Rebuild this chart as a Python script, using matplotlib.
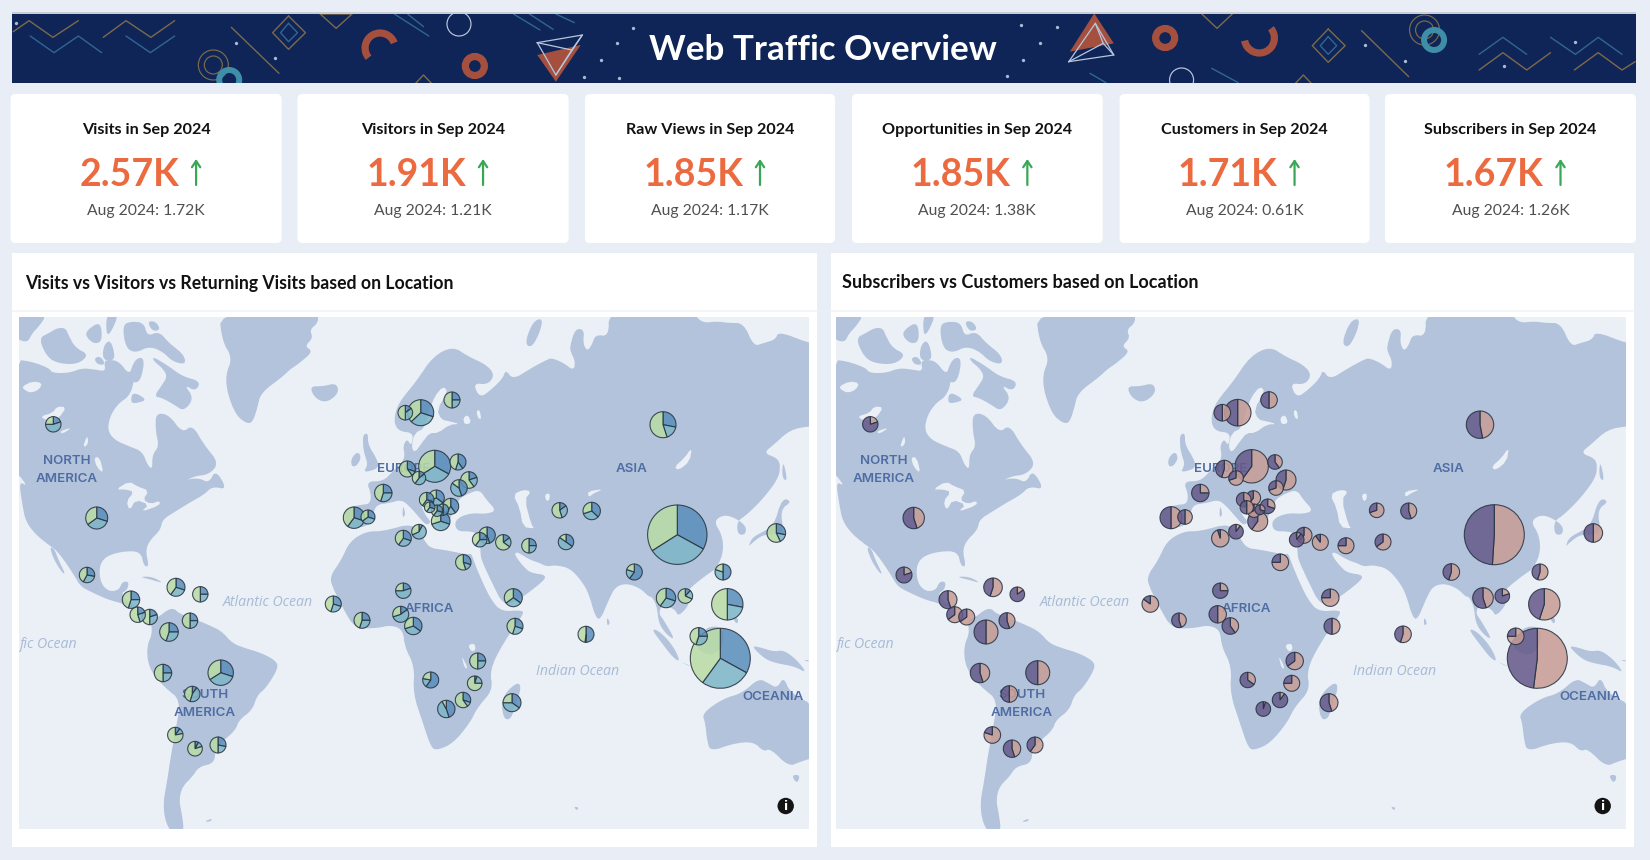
import numpy as np
import matplotlib
matplotlib.use("Agg")
import matplotlib.pyplot as plt
from matplotlib.patches import FancyBboxPatch, Rectangle, Circle, Polygon, Arc

# kpi cards
kpi_titles = ["Visits in Sep 2024", "Visitors in Sep 2024", "Raw Views in Sep 2024",
              "Opportunities in Sep 2024", "Customers in Sep 2024", "Subscribers in Sep 2024"]
kpi_values = ["2.57K", "1.91K", "1.85K", "1.85K", "1.71K", "1.67K"]
kpi_previous = ["Aug 2024: 1.72K", "Aug 2024: 1.21K", "Aug 2024: 1.17K",
                "Aug 2024: 1.38K", "Aug 2024: 0.61K", "Aug 2024: 1.26K"]
card_left = [10.6, 297.5, 585, 852, 1119.6, 1385]
card_right = [281.6, 568.6, 835, 1102.7, 1369.5, 1636]

# pies: one row per location (map position, read in pixels of the left map)
places = ["Canada", "USA", "Mexico", "Cuba", "Puerto Rico", "Guatemala", "Costa Rica", "Panama",
          "Colombia", "Venezuela", "Peru", "Brazil", "Bolivia", "Chile", "Argentina", "Uruguay",
          "Norway", "Sweden", "Finland", "UK", "Netherlands", "Germany", "Poland", "Ukraine",
          "Romania", "France", "Spain", "Portugal", "Italy", "Croatia", "Bulgaria", "Hungary",
          "Serbia", "Albania", "Greece", "Tunisia", "Algeria", "Turkey", "Lebanon", "Iraq",
          "Iran", "Egypt", "Uzbekistan", "Kazakhstan", "Afghanistan", "Bangladesh", "Russia",
          "China", "Japan", "Taiwan", "Thailand", "Vietnam", "Philippines", "Malaysia",
          "Indonesia", "Maldives", "Senegal", "Ghana", "Niger", "Nigeria", "Cameroon", "Yemen",
          "Kenya", "Tanzania", "DRC", "Malawi", "Zambia", "Namibia", "Madagascar"]
place_x = [53.3, 96.7, 87, 176, 200.3, 131, 137.7, 149.7, 169, 190, 163, 220.7, 192.3, 175.3, 195, 218,
           405.3, 420.7, 452, 407.3, 419, 434.7, 458, 469, 459, 383.3, 354, 368, 426.7, 436.3, 450.7, 429.7,
           437, 443, 440.7, 419, 403.3, 487, 479.7, 503.3, 529, 463.3, 559.7, 591.7, 566, 634.3, 663,
           677.3, 776.3, 723, 666, 685.3, 727.3, 698.7, 720.3, 586, 333.3, 362, 403.3, 400.7, 413.3, 513.3,
           515, 477.7, 430.7, 474.7, 463, 446.3, 512]
place_y = [424.3, 518, 575, 587.3, 594.3, 599.7, 614.7, 617, 632, 620.7, 673, 672.7, 694, 735, 748.7, 745,
           412.7, 412.7, 400, 469, 478, 466.3, 462, 480, 488, 493, 517.7, 517, 499.7, 498, 506.3, 507.3,
           510.7, 509.7, 521.3, 531.7, 538.3, 535.3, 539.7, 542.3, 545.7, 562.3, 510.3, 511, 542, 572, 424.7,
           534.7, 533, 572, 598, 596, 604.3, 636.3, 658.3, 634.3, 604, 620.3, 590.7, 614.3, 626, 597.7,
           626.3, 661, 680, 683.3, 700, 709, 702.7]
# left map: Visits / Returning Visits / Visitors
size_visits = [7.7, 11, 7.7, 9, 7.7, 8.7, 7.7, 7.7, 9.3, 7.7, 8.7, 12.7, 7.7, 7.7, 7.3, 8,
               7.3, 13, 8, 8, 6.7, 16, 8, 8.3, 8.3, 8.7, 10.7, 7, 7.3, 8, 8, 5.3,
               5.7, 5.7, 9.3, 7.3, 8, 8.3, 7.3, 7.7, 7.3, 7.7, 7.7, 8.7, 7.7, 8, 13,
               29.7, 9.3, 8, 9.7, 7.3, 15.7, 8.7, 30, 8, 8, 8, 7.7, 8, 8.7, 9,
               8, 8, 8, 7.3, 7.7, 8.7, 9]
share_blue = [.2, .3, .28, .3, .25, .25, .2, .2, .25, .25, .25, .3, .1, .1, .08, .28,
              .15, .3, .25, .3, .15, .33, .4, .2, .45, .25, .3, .3, .3, .35, .4, .3,
              .3, .5, .3, .08, .3, .45, .25, .15, .25, .3, .15, .37, .35, .6, .28,
              .33, .28, .5, .3, .12, .28, .25, .33, .5, .3, .25, .2, .15, .35, .35,
              .3, .25, .6, .05, .3, .45, .35]
share_teal = [.55, .35, .3, .3, .25, .3, .25, .3, .3, .25, .25, .36, .45, .12, .12, .22,
              .35, .33, .25, .1, .45, .33, .15, .2, .4, .3, .3, .35, .3, .35, .2, .3,
              .3, .2, .4, .6, .3, .2, .35, .2, .25, .15, .3, .33, .5, .2, .17,
              .33, .15, .3, .3, .2, .22, .3, .27, .02, .25, .3, .55, .55, .35, .3,
              .25, .25, .18, .2, .1, .47, .4]
# right map: Customers / Subscribers
size_subs = [7.7, 10.7, 8, 9.3, 7.3, 9, 8, 8, 12, 8, 9.7, 12, 8.3, 8.3, 8.7, 8,
             8.3, 13.3, 8.3, 8.7, 7.3, 16.7, 7.3, 10, 7.3, 8.7, 11, 7.3, 7.3, 7.3, 7.3, 6.7,
             6.7, 5, 10, 7.3, 8.7, 8, 7.3, 8, 8, 8.3, 7.3, 8, 8, 8.3, 13.7,
             30, 9.3, 8, 10.3, 7.3, 15.7, 8.3, 30, 8.3, 8.3, 7.3, 7.7, 8.7, 8.3, 8.7,
             8, 8.7, 7.7, 8, 7.7, 7.3, 9]
share_salmon = [.2, .45, .2, .55, .15, .45, .65, .65, .5, .45, .45, .5, .5, .8, .45, .6,
                .5, .5, .5, .55, .7, .6, .4, .55, .7, .25, .5, .5, .4, .6, .3, .5,
                .7, .3, .6, .1, .95, .6, .1, .9, .75, .75, .7, .45, .65, .55, .47,
                .51, .5, .55, .45, .2, .55, .75, .52, .55, .85, .45, .25, .5, .4, .75,
                .5, .65, .35, .75, .1, .05, .45]

# continents and oceans: text, x, y
continent_labels = [("NORTH", 67, 461.5), ("AMERICA", 67, 478.5), ("EUROPE", 404, 469.5), ("AFRICA", 429, 608.5),
                    ("ASIA", 632, 468.5), ("SOUTH", 205, 695), ("AMERICA", 205, 713), ("OCEANIA", 773, 696.5)]
ocean_labels = [("Atlantic Ocean", 268, 603, "center"), ("fic Ocean", 20, 645, "left"),
                ("Indian Ocean", 578, 671.5, "center")]

BG = "#e9eef6"
WATER = "#ebf0f7"
LAND = "#b2c3db"
NAVY = "#0f2557"
PX = 0.72  # one pixel in points at dpi 100

A = (19, 318)
B = (19, 560)
C = (283, 318)
D = (283, 560)
E = (547, 318)
F = (547, 560)


def tile(org, pts):
    return [(org[0] + a / 3, org[1] + b / 3) for a, b in pts]


# rounds the corners of a coast a little
def smooth(poly, rounds=2):
    pts = np.array(poly, dtype=float)
    for _ in range(rounds):
        nxt = np.roll(pts, -1, axis=0)
        pts = np.column_stack([0.75 * pts + 0.25 * nxt, 0.25 * pts + 0.75 * nxt]).reshape(-1, 2)
    return pts


land = [
    # north america
    tile(A, [(-12, 125), (35, 130), (90, 150), (100, 165), (150, 165), (190, 150), (230, 155), (260, 160), (255, 130),
             (270, 125), (300, 130), (330, 170), (345, 140), (345, 195), (330, 235), (300, 255), (275, 290), (265, 335),
             (285, 365), (330, 385), (370, 400), (385, 440), (400, 455), (400, 410), (420, 385), (410, 340), (410, 285),
             (450, 290), (490, 345), (520, 320), (555, 380), (600, 435), (570, 470), (520, 475), (470, 510), (500, 485),
             (540, 480), (570, 495), (590, 455), (625, 515), (580, 505), (555, 530), (510, 555), (470, 580), (430, 605),
             (425, 635), (390, 670), (380, 700), (390, 745), (375, 745), (365, 700), (310, 700), (260, 715)])
    + tile(B, [(240, 20), (245, 70), (270, 95), (300, 90), (310, 65), (330, 65), (325, 90), (305, 100), (330, 130),
               (350, 135), (335, 145), (310, 130), (270, 120), (225, 100), (185, 80), (165, 45), (135, 0)])
    + tile(A, [(110, 695), (95, 685), (50, 650), (20, 610), (10, 560), (0, 490), (25, 505), (0, 470), (-12, 470)]),
    tile(A, [(92, 688), (105, 690), (118, 725), (140, 770), (128, 762), (105, 725)]),
    # arctic islands
    tile(A, [(-12, -12), (85, -12), (60, 25), (40, 45), (25, 75), (-12, 60)]),
    tile(A, [(60, 60), (90, 45), (115, 30), (140, 30), (150, 55), (170, 90), (210, 110), (175, 140), (110, 135), (80, 110)]),
    tile(A, [(205, 35), (245, 10), (250, 70), (225, 78), (200, 55)]),
    tile(A, [(262, -12), (300, -12), (275, 45), (262, 50)]),
    tile(A, [(255, 80), (275, 65), (290, 120), (270, 130), (250, 120)]),
    tile(A, [(225, 120), (245, 115), (260, 140), (235, 140)]),
    tile(A, [(310, 20), (340, 10), (375, 15), (385, 55), (420, 40), (450, 75), (495, 110), (500, 140), (460, 130),
             (430, 100), (390, 85), (350, 105), (320, 90)]),
    tile(A, [(385, 10), (410, 10), (425, 35), (400, 40)]),
    tile(A, [(350, 120), (378, 120), (365, 190), (340, 195), (330, 170)]),
    tile(A, [(400, 115), (450, 145), (490, 175), (545, 190), (530, 220), (495, 200), (525, 240), (495, 280), (465, 260),
             (430, 240), (405, 235), (430, 200), (445, 175), (430, 150), (405, 130)]),
    tile(A, [(340, 220), (385, 245), (355, 255), (335, 255)]),
    # greenland, iceland
    tile(A, [(600, -15), (810, -15)]) + tile(C, [(105, -15), (105, 15), (80, 35), (90, 60), (65, 85), (90, 100), (50, 135), (20, 155), (0, 175)])
    + tile(A, [(725, 225), (715, 270), (700, 315), (680, 315), (650, 290), (625, 225), (620, 170), (640, 120), (610, 70)]),
    tile(C, [(80, 205), (120, 205), (160, 195), (168, 225), (130, 255), (95, 240)]),
    # south america
    tile(B, [(395, 180), (420, 170), (445, 150), (465, 145), (480, 160), (520, 175), (570, 195), (610, 215), (640, 250),
             (680, 265), (730, 280), (775, 305), (775, 330), (740, 385), (715, 405), (700, 450), (660, 480), (650, 510),
             (610, 545), (590, 570), (585, 610), (540, 620), (520, 650), (490, 680), (480, 720), (490, 770), (495, 815),
             (465, 825), (440, 790), (432, 730), (445, 660), (455, 590), (470, 510), (485, 420), (440, 385), (400, 340),
             (385, 300), (385, 255), (400, 220)]),
    tile(B, [(555, 785), (580, 775), (575, 785)]),
    tile(B, [(360, 50), (400, 50), (435, 70), (400, 60)]),
    # africa
    tile(D, [(175, 0), (140, 50), (150, 85), (180, 145), (215, 205), (280, 205), (325, 195), (360, 210), (365, 260),
             (395, 320), (390, 400), (420, 490), (445, 565), (465, 570), (510, 550), (560, 490), (585, 440), (630, 390),
             (620, 330), (660, 250), (720, 165), (720, 150), (655, 155), (625, 120), (600, 70), (575, 10), (565, -20)])
    + tile(C, [(555, 710), (480, 695), (440, 690), (420, 660), (390, 615), (300, 640), (250, 640), (200, 670)]),
    tile(D, [(655, 440), (665, 400), (705, 365), (715, 385), (695, 440), (685, 475), (665, 480)]),
    # eurasia
    tile(C, [(250, 490), (300, 490), (330, 460), (360, 430), (365, 410), (360, 385), (372, 362), (385, 385), (392, 345),
             (350, 340), (335, 320), (335, 290), (350, 250), (400, 190), (450, 115), (510, 85), (555, 115), (610, 140),
             (635, 170), (615, 200), (570, 195), (590, 240), (625, 215), (660, 180), (668, 155), (690, 185), (745, 150),
             (792, 125)])
    + tile(E, [(15, 120), (50, 135), (80, 158), (85, 130), (70, 100), (70, 80), (85, 32), (112, 35), (108, 75), (120, 100),
               (135, 80), (145, 50), (185, 55), (185, -15), (280, -15), (440, -15), (465, 15), (510, 10), (545, 15), (590, 15),
               (620, 85), (650, 75), (685, 65), (695, 40), (785, 75), (810, 75), (810, 325), (785, 325), (730, 335),
               (680, 380), (650, 405), (690, 420), (700, 440), (695, 480), (650, 540), (600, 590), (570, 610), (572, 650),
               (595, 650), (598, 625), (565, 600), (530, 590), (500, 610), (525, 650), (530, 700), (510, 750), (480, 770),
               (440, 801)])
    + tile(F, [(420, 95), (430, 130), (395, 170), (385, 150), (365, 140), (345, 135), (335, 160), (350, 180), (385, 240),
               (360, 225), (335, 190), (330, 140), (315, 110), (305, 110), (280, 85), (240, 70), (205, 80), (185, 120),
               (160, 180), (145, 170), (125, 100), (105, 65), (70, 25), (25, 15), (0, 20)])
    + tile(C, [(770, 735), (740, 725), (700, 700), (695, 712), (725, 750), (745, 765), (790, 771), (780, 791), (700, 851),
               (660, 861), (625, 790), (595, 726), (592, 700), (592, 650), (565, 640), (520, 640), (515, 605), (560, 585),
               (610, 588), (640, 578), (610, 545), (590, 515), (555, 527), (525, 545), (520, 575), (505, 590), (490, 640),
               (460, 625), (455, 590), (430, 560), (405, 535), (425, 590), (445, 612), (430, 622), (410, 600), (380, 565),
               (355, 545), (320, 555), (280, 560), (270, 590), (255, 625), (210, 630), (185, 625), (185, 590), (190, 570),
               (235, 560), (260, 558), (265, 530)]),
    # smaller islands
    tile(C, [(725, 75), (750, 10), (780, 0), (770, 45), (745, 90)]),
    tile(C, [(240, 350), (255, 345), (255, 380), (280, 420), (290, 450), (240, 465), (255, 440), (245, 410), (240, 385)]),
    tile(C, [(205, 420), (225, 400), (235, 420), (220, 445), (205, 445)]),
    tile(C, [(360, 560), (368, 590), (358, 600)]),
    tile(E, [(708, 425), (722, 490), (705, 480)]),
    tile(E, [(705, 540), (735, 550), (700, 575), (710, 640), (690, 650), (660, 650), (640, 655), (610, 680), (605, 685),
             (615, 660), (640, 645), (680, 625)]),
    tile(F, [(180, 170), (190, 190), (180, 198)]),
    tile(F, [(312, 205), (340, 215), (380, 260), (400, 305), (380, 295), (345, 250)]),
    tile(F, [(400, 305), (430, 320), (425, 315)]),
    tile(F, [(475, 200), (530, 200), (530, 260), (490, 290), (440, 260)]),
    tile(F, [(555, 170), (575, 175), (570, 195)]),
    tile(F, [(615, 258), (640, 262), (680, 275), (710, 270), (750, 300), (780, 340), (745, 320), (690, 310), (660, 300), (635, 280)]),
    tile(F, [(770, 300), (785, 300), (785, 305)]),
    tile(F, [(465, 460), (530, 415), (585, 400), (635, 355), (665, 370), (690, 385), (710, 350), (730, 400), (810, 440),
             (810, 590), (760, 605), (725, 620), (670, 565), (650, 575), (620, 545), (560, 550), (490, 575), (480, 540), (475, 490)]),
    tile(F, [(733, 645), (760, 645), (750, 672)]),
    tile(F, [(80, 740), (95, 742), (90, 752)]),
]
lakes = [
    tile(A, [(290, 515), (330, 490), (355, 505), (390, 518), (372, 545), (395, 558), (422, 548), (422, 562), (365, 582),
             (390, 560), (350, 545), (332, 578), (322, 550), (345, 522), (320, 514)]),
    tile(A, [(65, 295), (100, 285), (115, 265), (142, 268), (122, 297), (105, 308), (80, 306)]),
    tile(A, [(122, 340), (160, 328), (130, 348)]),
    tile(A, [(193, 382), (205, 352), (208, 375), (198, 387)]),
    tile(A, [(225, 418), (242, 418), (254, 467), (233, 447)]),
    tile(A, [(10, 205), (40, 190), (70, 195), (60, 215), (35, 225), (15, 215)]),
    tile(C, [(395, 405), (420, 370), (440, 345), (465, 345), (500, 320), (530, 318), (500, 310), (475, 305), (462, 275),
             (495, 220), (480, 205), (455, 235), (440, 275), (425, 330), (395, 345), (385, 385)]),
    tile(C, [(540, 300), (555, 290), (565, 315), (545, 320)]),
    tile(C, [(580, 280), (590, 275), (595, 305), (585, 300)]),
    tile(C, [(690, 530), (720, 515), (745, 520), (725, 545), (745, 620), (755, 632), (720, 627), (710, 570)]),
    tile(C, [(785, 530), (800, 525), (800, 545), (790, 550)]),
    tile(E, [(122, 520), (170, 513), (140, 526), (125, 538)]),
    tile(E, [(382, 447), (412, 420), (435, 388), (428, 430), (395, 457)]),
    tile(D, [(555, 255), (575, 250), (578, 270), (565, 275)]),
    tile(D, [(535, 285), (555, 325), (545, 325)]),
]


def draw_map(ax, sizes, shares, colors):
    for poly in land:
        ax.add_patch(Polygon([(x, 860 - y) for x, y in smooth(poly)], closed=True, fc=LAND, ec="none", zorder=1))
    for poly in lakes:
        ax.add_patch(Polygon([(x, 860 - y) for x, y in smooth(poly, 1)], closed=True, fc=WATER, ec="none", zorder=1.1))
    for txt, x, y in continent_labels:
        ax.text(x, 860 - y, txt, ha="center", va="center", color="#4f6da3", fontsize=9.6, fontweight="semibold",
                family="Inter", zorder=2, clip_on=True)
    for txt, x, y, ha in ocean_labels:
        ax.text(x, 860 - y, txt, ha=ha, va="center", color="#a7bad5", fontsize=10.2, style="italic",
                family="Open Sans", zorder=2, clip_on=True)
    # big pies first, the small ones stay on top
    for i in np.argsort(sizes)[::-1]:
        wedges, _ = ax.pie(shares[i], colors=colors, center=(place_x[i], 860 - place_y[i]), radius=sizes[i],
                           startangle=90, counterclock=False,
                           wedgeprops={"edgecolor": "#26323f", "linewidth": 0.8, "alpha": 0.86})
        for w in wedges:
            w.set_zorder(3)
    ax.add_patch(Circle((785.7, 860 - 806), 13, fc=WATER, ec="none", zorder=4))
    ax.add_patch(Circle((785.7, 860 - 806), 8.2, fc="#141414", ec="none", zorder=5))
    ax.text(785.7, 860 - 806, "i", color="white", ha="center", va="center", fontsize=9, fontweight="bold",
            family="DejaVu Sans", zorder=6)
    ax.set_xlim(19, 809)
    ax.set_ylim(860 - 829, 860 - 317)
    ax.axis("off")


fig = plt.figure(figsize=(16.5, 8.6), dpi=100, facecolor=BG)

# page layer in pixel coordinates
page = fig.add_axes([0, 0, 1, 1])
page.set_xlim(0, 1650)
page.set_ylim(860, 0)
page.axis("off")

page.add_patch(Rectangle((12, 11.5), 1624, 3, fc="#c9ced6", ec="none"))
for left, right in zip(card_left, card_right):
    page.add_patch(FancyBboxPatch((left + 4, 98), right - left - 8, 141, boxstyle="round,pad=4,rounding_size=5",
                                  fc="white", ec="none"))
for left, right in [(12, 817), (830.6, 1633.6)]:
    page.add_patch(Rectangle((left, 252.7), right - left, 594, fc="white", ec="none"))
    page.plot([left, right], [311, 311], color="#f1f3f7", lw=1.2)
    page.add_patch(Rectangle((left + 7 if left < 100 else 836, 317), 790, 512, fc=WATER, ec="none"))

for i in range(6):
    cx = (card_left[i] + card_right[i]) / 2
    page.text(cx, 130, kpi_titles[i], ha="center", va="center", fontsize=11.6, fontweight="bold",
              family="Lato", color="#111111")
    page.text(cx + 33, 174.5, kpi_values[i], ha="right", va="center", fontsize=27, fontweight="bold",
              family="Lato", color="#ec6a3f")
    page.annotate("", xy=(cx + 50, 159), xytext=(cx + 50, 185),
                  arrowprops=dict(arrowstyle="->,head_length=0.45,head_width=0.3", color="#3aa757", lw=1.6,
                                  shrinkA=0, shrinkB=0))
    page.text(cx, 211, kpi_previous[i], ha="center", va="center", fontsize=11.3, family="Lato", color="#505050")

page.text(25, 283, "Visits vs Visitors vs Returning Visits based on Location", ha="left", va="center",
          fontsize=12.7, fontweight="bold", family="Lato", color="#111111")
page.text(842, 283, "Subscribers vs Customers based on Location", ha="left", va="center",
          fontsize=13, fontweight="bold", family="Lato", color="#111111")

# banner with its decoration, clipped by its own axes
ban = fig.add_axes([12 / 1650, 1 - 83 / 860, 1624 / 1650, 69.5 / 860])
ban.set_xlim(12, 1636)
ban.set_ylim(83, 13.5)
ban.set_facecolor(NAVY)
ban.set_xticks([])
ban.set_yticks([])
for s in ban.spines.values():
    s.set_visible(False)

GOLD = "#7b6b4a"
STEEL = "#2f6694"
RUST = "#a5503f"
TEAL = "#3f8ea8"
PALE = "#b8c6dc"


def zl(pts):
    return [p[0] / 1.889 for p in pts], [p[1] / 3 for p in pts]


def zr(pts):
    return [820 + p[0] / 1.889 for p in pts], [p[1] / 3 for p in pts]


for conv, pts, col in [
    (zl, [(25, 95), (55, 62), (100, 112), (148, 62)], GOLD),
    (zl, [(195, 112), (238, 62), (285, 112), (330, 62)], GOLD),
    (zl, [(57, 108), (102, 158), (148, 108), (192, 158)], STEEL),
    (zl, [(238, 108), (284, 158), (330, 108)], STEEL),
    (zl, [(545, 48), (577, 98), (545, 148), (515, 98), (545, 48)], GOLD),
    (zl, [(545, 70), (562, 98), (545, 125), (530, 98), (545, 70)], STEEL),
    (zl, [(437, 82), (527, 220)], GOLD),
    (zl, [(605, 42), (665, 42), (635, 85), (605, 42)], GOLD),
    (zl, [(745, 42), (810, 108)], STEEL),
    (zl, [(770, 42), (800, 80)], STEEL),
    (zl, [(970, 42), (1020, 90)], STEEL),
    (zl, [(1000, 42), (1045, 88)], STEEL),
    (zl, [(1050, 42), (1085, 68)], STEEL),
    (zl, [(785, 250), (800, 225), (815, 250)], GOLD),
    (zr, [(960, 87), (992, 137), (960, 187), (930, 137), (960, 87)], GOLD),
    (zr, [(960, 110), (976, 137), (960, 163), (945, 137), (960, 110)], STEEL),
    (zr, [(1023, 92), (1112, 230)], GOLD),
    (zr, [(720, 40), (780, 40), (750, 85), (720, 40)], GOLD),
    (zr, [(1245, 163), (1290, 112), (1335, 163)], STEEL),
    (zr, [(1380, 112), (1427, 163), (1470, 112), (1515, 163)], STEEL),
    (zr, [(1245, 210), (1290, 158), (1335, 210), (1380, 158)], GOLD),
    (zr, [(1425, 210), (1470, 158), (1515, 210), (1540, 185)], GOLD),
    (zr, [(740, 205), (790, 248)], STEEL),
    (zr, [(510, 220), (540, 248)], STEEL),
    (zr, [(898, 250), (913, 225), (928, 250)], GOLD),
]:
    xs, ys = conv(pts)
    ban.plot(xs, ys, color=col, lw=1.0, solid_capstyle="round")

ban.fill(*zl([(1015, 165), (1097, 135), (1050, 245)]), color=RUST, lw=0)
ban.fill(*zr([(518, 40), (555, 130), (472, 155)]), color=RUST, lw=0)
for xs, ys in [zl([(1015, 128), (1100, 105), (1050, 225), (1015, 128)]), zl([(1015, 128), (1080, 150), (1050, 225)]),
               zl([(1080, 150), (1100, 105)]), zr([(470, 185), (555, 165), (520, 70), (470, 185)]),
               zr([(470, 185), (535, 130), (555, 165)]), zr([(535, 130), (520, 70)])]:
    ban.plot(xs, ys, color=PALE, lw=0.9)

dots = [zl([p]) for p in [(30, 70), (445, 128), (520, 175), (1165, 130), (1195, 85), (1135, 180), (1103, 230), (1170, 235)]]
dots += [zr([p]) for p in [(380, 75), (447, 80), (415, 130), (383, 180), (353, 228), (1030, 135), (1105, 182), (1427, 125), (1293, 197)]]
for xs, ys in dots:
    ban.plot(xs, ys, "o", color="#a9bbd6", ms=2.4, mew=0)

for cx, cy, r, col, lw in [
    (403 / 1.889, 65, 15, GOLD, 1), (403 / 1.889, 65, 9, GOLD, 1), (433 / 1.889, 80, 10, TEAL, 5),
    (867 / 1.889, 24, 12, PALE, 1), (897 / 1.889, 66, 9.5, RUST, 6), (820 + 652 / 1.889, 38, 9.5, RUST, 6),
    (820 + 683 / 1.889, 80, 12, PALE, 1), (820 + 1142 / 1.889, 30, 15, GOLD, 1), (820 + 1142 / 1.889, 30, 9, GOLD, 1),
    (820 + 1160 / 1.889, 40, 10, TEAL, 5),
]:
    ban.add_patch(Circle((cx, cy), r, fc="none", ec=col, lw=lw * PX * 1.2))
ban.add_patch(Arc((718 / 1.889, 48), 30, 30, theta1=140, theta2=340, ec=RUST, lw=6 * PX * 1.2))
ban.add_patch(Arc((820 + 830 / 1.889, 38), 30, 30, theta1=-40, theta2=170, ec=RUST, lw=6 * PX * 1.2))

ban.text(823, 50.5, "Web Traffic Overview", ha="center", va="center", color="white", fontsize=25.2,
         fontweight="bold", family="Lato")

# the two maps share one set of places
y_map = 1 - 829 / 860
h_map = 512 / 860
map_l = fig.add_axes([19 / 1650, y_map, 790 / 1650, h_map])
map_r = fig.add_axes([836 / 1650, y_map, 790 / 1650, h_map])

left_shares = [[b, t, 1 - b - t] for b, t in zip(share_blue, share_teal)]
right_shares = [[s, 1 - s] for s in share_salmon]
draw_map(map_l, size_visits, left_shares, ["#5a8fbb", "#7db6c6", "#b9dca5"])
draw_map(map_r, size_subs, right_shares, ["#c89d96", "#66598a"])

fig.savefig("out.png", dpi=100, facecolor=BG)
